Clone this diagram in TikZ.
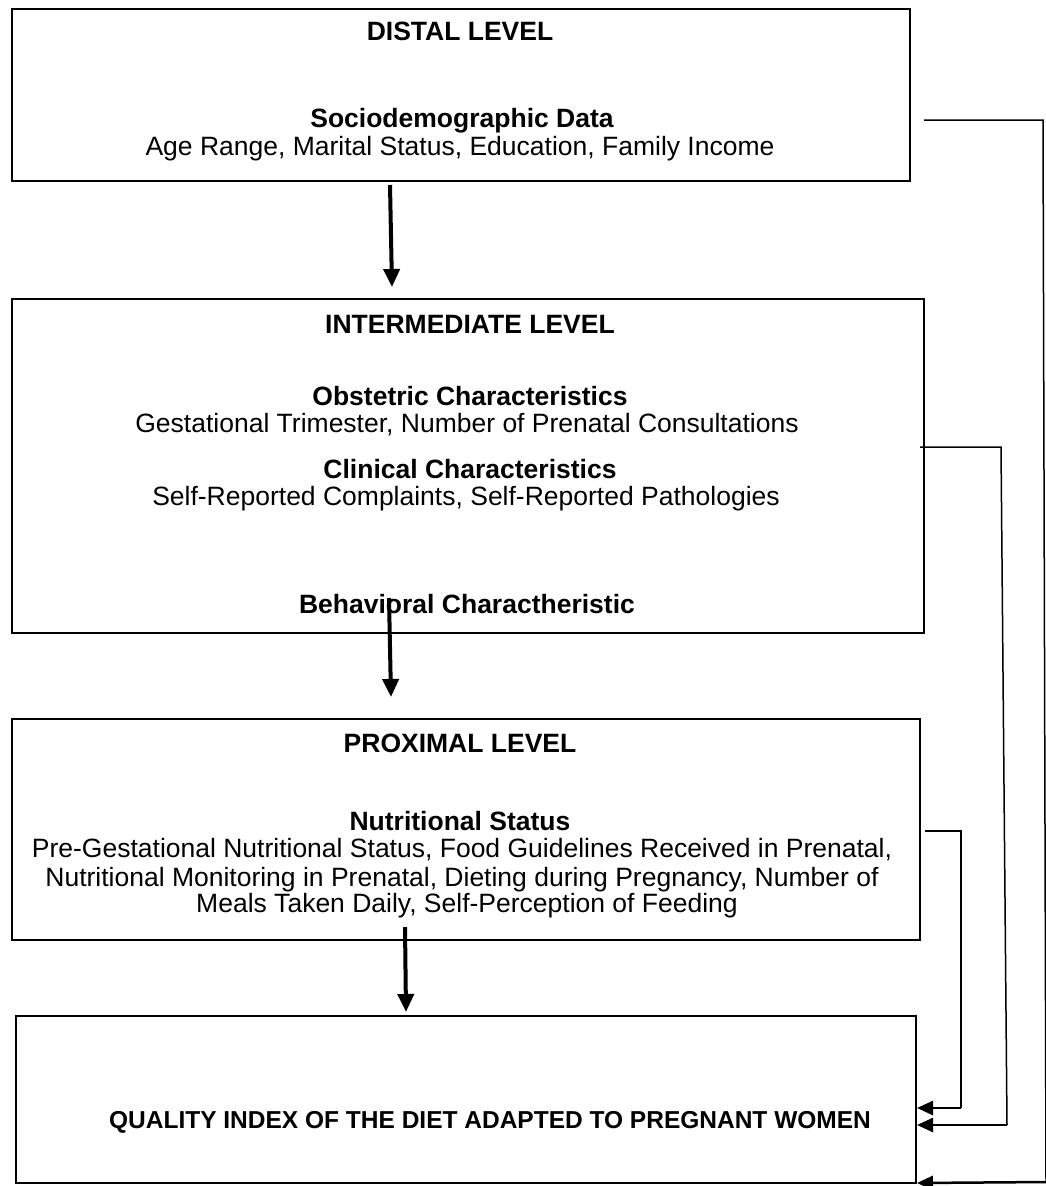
\documentclass[tikz,border=0pt]{standalone}
\usepackage{fontspec}
\setmainfont{Liberation Sans}
\usetikzlibrary{arrows.meta}
\begin{document}
\begin{tikzpicture}[x=1pt,y=-1pt,
  box/.style={draw,line width=2pt,inner sep=0pt},
  txt/.style={inner sep=0pt,anchor=base,font=\fontsize{26.5}{30}\selectfont},
  btxt/.style={inner sep=0pt,anchor=base,font=\fontsize{26.5}{30}\selectfont\bfseries},
  flow/.style={line width=4pt,-{Triangle[length=18pt,width=16pt]}},
  link/.style={line width=1.5pt},
  back/.style={line width=2.5pt,-{Triangle[length=16pt,width=14pt]}}]
\useasboundingbox (0,0) rectangle (1046,1186);
% boxes
\node[box,anchor=north west,minimum width=898pt,minimum height=172pt] (b1) at (11,8) {};
\node[box,anchor=north west,minimum width=912pt,minimum height=334pt] (b2) at (11,298) {};
\node[box,anchor=north west,minimum width=908pt,minimum height=221pt] (b3) at (11,718) {};
\node[box,anchor=north west,minimum width=900pt,minimum height=167pt] (b4) at (15,1015) {};
% texts box 1
\node[btxt] (t11) at (460,40) {DISTAL LEVEL};
\node[btxt] (t12) at (462,127) {Sociodemographic Data};
\node[txt] (t13) at (460,155) {Age Range, Marital Status, Education, Family Income};
% texts box 2
\node[btxt] (t21) at (470,333) {INTERMEDIATE LEVEL};
\node[btxt] (t22) at (470,405) {Obstetric Characteristics};
\node[txt] (t23) at (467,432) {Gestational Trimester, Number of Prenatal Consultations};
\node[btxt] (t24) at (470,478) {Clinical Characteristics};
\node[txt] (t25) at (466,505) {Self-Reported Complaints, Self-Reported Pathologies};
\node[btxt] (t26) at (467,613) {Behavioral Charactheristic};
% texts box 3
\node[btxt] (t31) at (460,752) {PROXIMAL LEVEL};
\node[btxt] (t32) at (460,830) {Nutritional Status};
\node[txt] (t33) at (462,857) {Pre-Gestational Nutritional Status, Food Guidelines Received in Prenatal,};
\node[txt] (t34) at (462,886) {Nutritional Monitoring in Prenatal, Dieting during Pregnancy, Number of};
\node[txt] (t35) at (467,912) {Meals Taken Daily, Self-Perception of Feeding};
% box 4
\node[inner sep=0pt,anchor=base,font=\fontsize{24.5}{30}\selectfont\bfseries] (t41) at (490,1128) {QUALITY INDEX OF THE DIET ADAPTED TO PREGNANT WOMEN};
% main arrows
\coordinate (a1s) at (390,185); \coordinate (a1e) at (392,287);
\coordinate (a2s) at (389,598); \coordinate (a2e) at (391,697);
\coordinate (a3s) at (405,927); \coordinate (a3e) at (406,1012);
\draw[flow] (a1s) -- (a1e);
\draw[flow] (a2s) -- (a2e);
\draw[flow] (a3s) -- (a3e);
% side connectors
\coordinate (c1a) at (924,120); \coordinate (c1b) at (1043,120); \coordinate (c1c) at (1046,1182);
\coordinate (c2a) at (920,447); \coordinate (c2b) at (1001,447); \coordinate (c2c) at (1007,1125);
\coordinate (c3a) at (925,831); \coordinate (c3b) at (961,831); \coordinate (c3c) at (961,1108);
\draw[link] (c1a) -- (c1b) -- (c1c);
\draw[link] (c2a) -- (c2b) -- (c2c);
\draw[link] (c3a) -- (c3b) -- (c3c);
\draw[back] (c1c) -- (b4.east |- 0,1183);
\draw[back] (c2c) -- (b4.east |- 0,1125);
\draw[back] (c3c) -- (b4.east |- 0,1108);
\end{tikzpicture}
\end{document}
